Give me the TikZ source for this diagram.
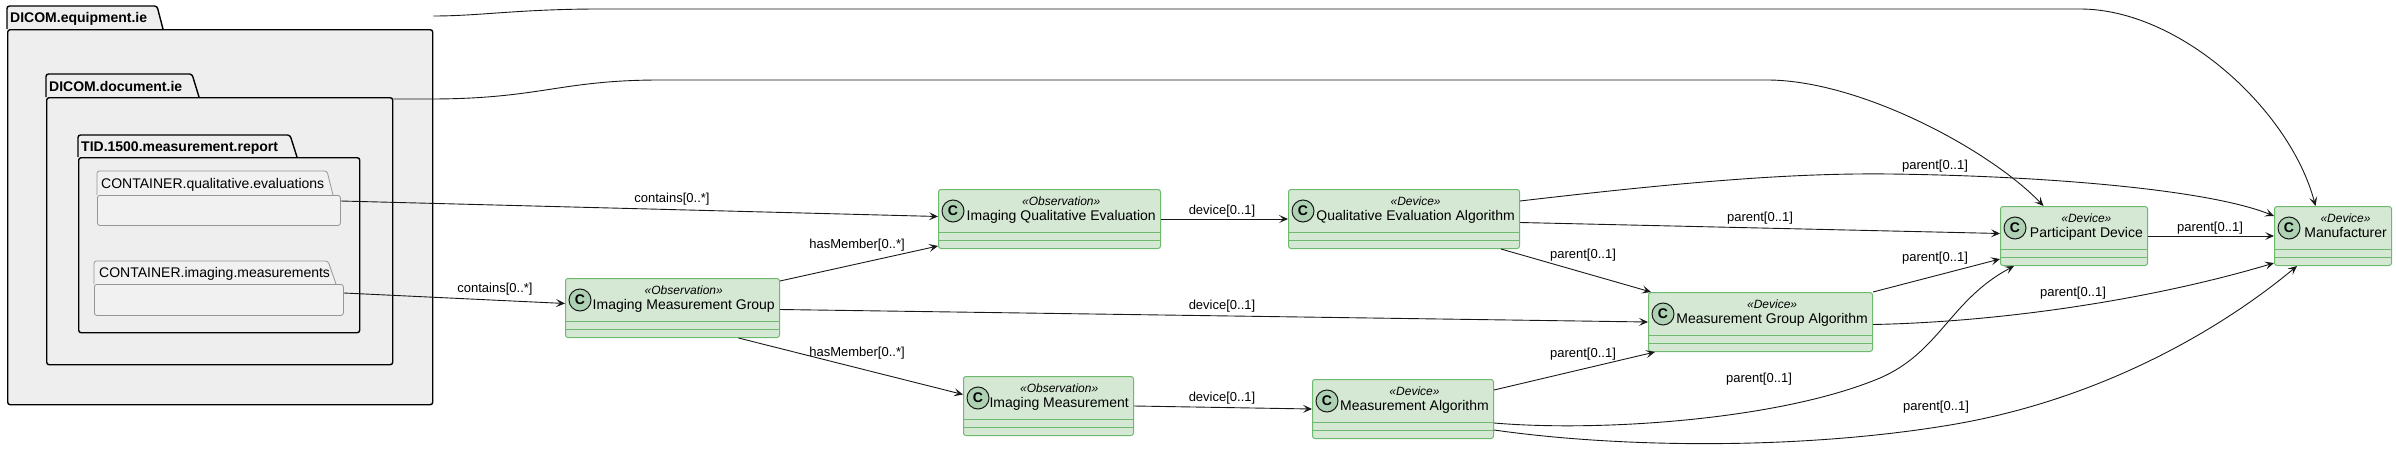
\documentclass[tikz,border=0pt]{standalone}
\usepackage{fontspec}
\setmainfont{Liberation Sans}
\usepackage{tikz}
\usetikzlibrary{arrows.meta,positioning}
\definecolor{umlfill}{RGB}{213,232,212}
\definecolor{umlline}{RGB}{110,185,110}
\definecolor{umlspot}{RGB}{173,209,178}
\definecolor{umlink}{RGB}{24,24,24}
\definecolor{pkgfill}{RGB}{238,238,238}
\definecolor{boxfill}{RGB}{241,241,241}
\definecolor{boxline}{RGB}{150,150,150}
\newcommand{\stereo}[1]{{\fontsize{12}{15}\selectfont\itshape «#1»}}

\begin{document}
\begin{tikzpicture}[x=1pt, y=-1pt,
        pkg/.style={draw=black, fill=pkgfill, line width=1.4pt, rounded corners=2.5pt},
        pkgbody/.style={pkg, anchor=north west, inner sep=0},
        pkgname/.style={anchor=base west, inner sep=0, font=\fontsize{14}{16}\selectfont\bfseries},
        box/.style={draw=boxline, fill=boxfill, line width=0.8pt, rounded corners=2.5pt},
        boxbody/.style={box, anchor=north west, inner sep=0},
        boxname/.style={anchor=base west, inner sep=0, font=\fontsize{14}{16}\selectfont},
        cls/.style={draw=umlline, fill=umlfill, line width=1pt, rounded corners=2.5pt, anchor=north west,
          inner sep=0, minimum height=59, label={[spot]north west:C},
          path picture={\draw[umlline, line width=1pt]
            ([yshift=16pt]path picture bounding box.south west) -- ([yshift=16pt]path picture bounding box.south east)
            ([yshift=8pt]path picture bounding box.south west) -- ([yshift=8pt]path picture bounding box.south east);}},
        spot/.style={circle, draw=umlink, fill=umlspot, line width=1pt, minimum size=22, inner sep=0,
          anchor=center, xshift=15pt, yshift=-22pt, font=\fontsize{14}{14}\selectfont\bfseries},
        ctext/.style={anchor=north east, inner sep=0, align=center, font=\fontsize{14}{15}\selectfont},
        rel/.style={-{Stealth[length=9pt, width=8pt, inset=4pt]}, draw=umlink, line width=0.9pt},
        rlabel/.style={inner sep=0, font=\fontsize{13}{15}\selectfont}
      ]
      \useasboundingbox (0,0) rectangle (2396,463);

      \filldraw[pkg] (7,29) -- (7,6) -- (157,6) -- (163,29);
      \node[pkgbody, minimum width=425, minimum height=375] (equip) at (7,29) {};
      \node[pkgname] (equip-t) at (10,23) {DICOM.equipment.ie};

      \filldraw[pkg] (46,97) -- (46,74) -- (192,74) -- (199,97);
      \node[pkgbody, minimum width=346, minimum height=267] (doc) at (46,97) {};
      \node[pkgname] (doc-t) at (49,91) {DICOM.document.ie};

      \filldraw[pkg] (78,157) -- (78,135) -- (290,135) -- (297,157);
      \node[pkgbody, minimum width=281, minimum height=175] (tid) at (78,157) {};
      \node[pkgname] (tid-t) at (81,151) {TID.1500.measurement.report};

      \filldraw[box] (97,195) -- (97,171) -- (327,171) -- (333,195);
      \node[boxbody, minimum width=243, minimum height=30] (cqe) at (97,195) {};
      \node[boxname] (cqe-t) at (101,188) {CONTAINER.qualitative.evaluations};

      \filldraw[box] (94,284) -- (94,261) -- (328,261) -- (336,284);
      \node[boxbody, minimum width=249, minimum height=31] (cim) at (94,284) {};
      \node[boxname] (cim-t) at (99,277.5) {CONTAINER.imaging.measurements};

      \node[cls, minimum width=214] (img) at (565,278) {};
      \node[ctext] (img-t) at ([xshift=-5pt, yshift=-8pt]img.north east) {\stereo{Observation}\\Imaging Measurement Group};
      \node[cls, minimum width=222] (iqe) at (938,189) {};
      \node[ctext] (iqe-t) at ([xshift=-5pt, yshift=-8pt]iqe.north east) {\stereo{Observation}\\Imaging Qualitative Evaluation};
      \node[cls, minimum width=231] (qea) at (1288,189) {};
      \node[ctext] (qea-t) at ([xshift=-5pt, yshift=-8pt]qea.north east) {\stereo{Device}\\Qualitative Evaluation Algorithm};
      \node[cls, minimum width=170] (im) at (963,376) {};
      \node[ctext] (im-t) at ([xshift=-5pt, yshift=-8pt]im.north east) {\stereo{Observation}\\Imaging Measurement};
      \node[cls, minimum width=181] (ma) at (1312,379) {};
      \node[ctext] (ma-t) at ([xshift=-5pt, yshift=-8pt]ma.north east) {\stereo{Device}\\Measurement Algorithm};
      \node[cls, minimum width=224] (mga) at (1648,292) {};
      \node[ctext] (mga-t) at ([xshift=-5pt, yshift=-8pt]mga.north east) {\stereo{Device}\\Measurement Group Algorithm};
      \node[cls, minimum width=147] (pd) at (2000,206) {};
      \node[ctext] (pd-t) at ([xshift=-5pt, yshift=-8pt]pd.north east) {\stereo{Device}\\Participant Device};
      \node[cls, minimum width=117] (mf) at (2274,206) {};
      \node[ctext] (mf-t) at ([xshift=-5pt, yshift=-8pt]mf.north east) {\stereo{Device}\\Manufacturer};

      \draw[rel] ([yshift=13pt]equip.north east) .. controls (480,16) and (520,9) .. (600,9) -- (2080,9)
        .. controls (2180,9) and (2290,110) .. ([xshift=-17.5pt]mf.north);
      \draw[rel] ([yshift=-2pt]doc.north east) -- (430,99) .. controls (540,99) and (560,80) .. (660,80) -- (1767,80)
        .. controls (1860,80) and (1990,150) .. ([xshift=-30.5pt]pd.north);

      \draw[rel] ([yshift=-6pt]cqe.north east) -- ([yshift=2.5pt]iqe.west);
      \node[rlabel] (l-cq) at (672,199) {contains[0..*]};
      \draw[rel] ([yshift=-9pt]cim.north east) -- ([yshift=4.5pt]img.west);
      \node[rlabel] (l-cm) at (495,289) {contains[0..*]};

      \draw[rel] ([yshift=-3pt]img.north east) -- ([yshift=3pt]iqe.south west);
      \node[rlabel] (l-hq) at (857,245) {hasMember[0..*]};
      \draw[rel] ([xshift=66pt]img.south) -- ([yshift=11.5pt]im.west);
      \node[rlabel] (l-hm) at (857,353) {hasMember[0..*]};

      \draw[rel] (iqe.east) -- (qea.west);
      \node[rlabel] (l-dq) at (1222,211) {device[0..1]};
      \draw[rel] ([yshift=-1.5pt]img.east) -- (mga.west);
      \node[rlabel] (l-dg) at (1222,306) {device[0..1]};
      \draw[rel] (im.east) -- (ma.west);
      \node[rlabel] (l-dm) at (1222,398) {device[0..1]};

      \draw[rel] ([yshift=-12pt]qea.north east) .. controls (1700,180) and (1800,173) .. (1890,174)
        .. controls (2050,176) and (2210,190) .. ([yshift=-10pt]mf.north west);
      \node[rlabel] (l-p1) at (1935,166) {parent[0..1]};
      \draw[rel] ([yshift=-3.5pt]qea.east) -- ([yshift=2.5pt]pd.west);
      \node[rlabel] (l-p2) at (1760,218) {parent[0..1]};
      \draw[rel] ([xshift=-19pt]qea.south east) -- ([xshift=3pt]mga.north west);
      \node[rlabel] (l-p3) at (1583,255) {parent[0..1]};

      \draw[rel] (mga.north east) -- ([yshift=7pt]pd.south west);
      \node[rlabel] (l-p4) at (1935,258) {parent[0..1]};
      \draw[rel] ([yshift=-2.5pt]mga.east) .. controls (2000,322) and (2150,300) .. ([yshift=3pt]mf.south west);
      \node[rlabel] (l-p5) at (2073,293) {parent[0..1]};
      \draw[rel] (pd.east) -- (mf.west);
      \node[rlabel] (l-p6) at (2210,228) {parent[0..1]};

      \draw[rel] ([yshift=-11pt]ma.north east) -- ([xshift=7pt]mga.south west);
      \node[rlabel] (l-p7) at (1583,354) {parent[0..1]};
      \draw[rel] ([yshift=16pt]ma.south east) .. controls (1600,432) and (1780,420) .. (1880,378)
        .. controls (1940,352) and (1950,300) .. ([xshift=14pt]pd.south west);
      \node[rlabel] (l-p8) at (1759,379) {parent[0..1]};
      \draw[rel] ([yshift=9pt]ma.south east) .. controls (1620,448) and (1800,450) .. (1950,425)
        .. controls (2100,400) and (2220,330) .. ([xshift=23pt]mf.south west);
      \node[rlabel] (l-p9) at (1936,407) {parent[0..1]};
    \end{tikzpicture}
\end{document}
